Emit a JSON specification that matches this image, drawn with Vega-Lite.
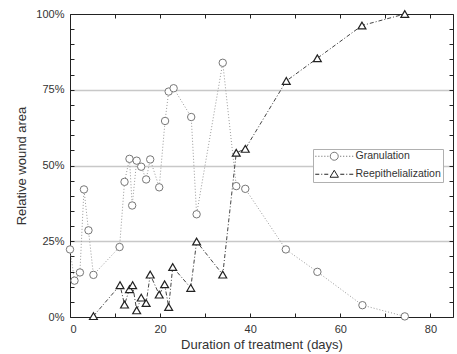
{
  "$schema": "https://vega.github.io/schema/vega-lite/v6.json",
  "width": 383,
  "height": 303,
  "autosize": {"type": "none"},
  "padding": {"left": 70, "top": 14, "right": 4, "bottom": 37},
  "background": "white",
  "config": {
    "font": "Liberation Sans",
    "view": {"stroke": null},
    "axis": {
      "domainColor": "#222",
      "tickColor": "#222",
      "labelColor": "#333",
      "titleColor": "#333",
      "labelFontSize": 11,
      "titleFontSize": 13,
      "titleFontWeight": "normal",
      "tickSize": -4,
      "gridColor": "#c8c8c8",
      "gridWidth": 1.5
    },
    "legend": {"strokeColor": "#b0b0b0", "fillColor": "white"}
  },
  "data": {
    "values": [
      {"series": "Granulation", "day": 0, "value": 22.3},
      {"series": "Granulation", "day": 1, "value": 12},
      {"series": "Granulation", "day": 2.2, "value": 14.7},
      {"series": "Granulation", "day": 3.1, "value": 42.1},
      {"series": "Granulation", "day": 4.1, "value": 28.6},
      {"series": "Granulation", "day": 5.2, "value": 13.9},
      {"series": "Granulation", "day": 11, "value": 23.1},
      {"series": "Granulation", "day": 12.1, "value": 44.6},
      {"series": "Granulation", "day": 13.2, "value": 52.2},
      {"series": "Granulation", "day": 13.8, "value": 36.8},
      {"series": "Granulation", "day": 14.8, "value": 51.6},
      {"series": "Granulation", "day": 15.8, "value": 49.6},
      {"series": "Granulation", "day": 16.9, "value": 45.4},
      {"series": "Granulation", "day": 17.8, "value": 52},
      {"series": "Granulation", "day": 19.8, "value": 42.8},
      {"series": "Granulation", "day": 21.1, "value": 64.7},
      {"series": "Granulation", "day": 21.9, "value": 74.4},
      {"series": "Granulation", "day": 23, "value": 75.5},
      {"series": "Granulation", "day": 26.9, "value": 66},
      {"series": "Granulation", "day": 28.1, "value": 33.9},
      {"series": "Granulation", "day": 33.9, "value": 83.9},
      {"series": "Granulation", "day": 36.9, "value": 43.2},
      {"series": "Granulation", "day": 38.9, "value": 42.3},
      {"series": "Granulation", "day": 47.9, "value": 22.3},
      {"series": "Granulation", "day": 54.9, "value": 14.9},
      {"series": "Granulation", "day": 64.9, "value": 3.9},
      {"series": "Granulation", "day": 74.3, "value": 0.2},
      {"series": "Reepithelialization", "day": 5.2, "value": 0.3},
      {"series": "Reepithelialization", "day": 11.1, "value": 10.5},
      {"series": "Reepithelialization", "day": 12.1, "value": 4.1},
      {"series": "Reepithelialization", "day": 13.2, "value": 9.2},
      {"series": "Reepithelialization", "day": 13.9, "value": 10.5},
      {"series": "Reepithelialization", "day": 14.8, "value": 2.2},
      {"series": "Reepithelialization", "day": 15.8, "value": 6.4},
      {"series": "Reepithelialization", "day": 16.9, "value": 4.6},
      {"series": "Reepithelialization", "day": 17.8, "value": 14},
      {"series": "Reepithelialization", "day": 19.8, "value": 7.4},
      {"series": "Reepithelialization", "day": 21, "value": 10.8},
      {"series": "Reepithelialization", "day": 21.9, "value": 3.3},
      {"series": "Reepithelialization", "day": 22.8, "value": 16.5},
      {"series": "Reepithelialization", "day": 26.8, "value": 9.6},
      {"series": "Reepithelialization", "day": 28.1, "value": 24.9},
      {"series": "Reepithelialization", "day": 33.9, "value": 14},
      {"series": "Reepithelialization", "day": 36.9, "value": 54.2},
      {"series": "Reepithelialization", "day": 38.9, "value": 55.5},
      {"series": "Reepithelialization", "day": 48, "value": 77.9},
      {"series": "Reepithelialization", "day": 54.9, "value": 85.4},
      {"series": "Reepithelialization", "day": 64.8, "value": 96.2},
      {"series": "Reepithelialization", "day": 74.3, "value": 100}
    ]
  },
  "layer": [
    {
      "mark": {"type": "line", "strokeWidth": 1},
      "encoding": {
        "x": {
          "field": "day", "type": "quantitative",
          "scale": {"domain": [0, 85], "nice": false, "zero": false},
          "axis": {
            "title": "Duration of treatment (days)",
            "values": [0, 10, 20, 30, 40, 50, 60, 70, 80],
            "labelExpr": "datum.value % 20 === 0 ? datum.label : ''",
            "grid": false,
            "labelPadding": 10.5,
            "titlePadding": 4
          }
        },
        "y": {
          "field": "value", "type": "quantitative",
          "scale": {"domain": [0, 100], "nice": false},
          "axis": {
            "title": "Relative wound area",
            "values": [0,5,10,15,20,25,30,35,40,45,50,55,60,65,70,75,80,85,90,95,100],
            "labelExpr": "datum.value % 25 === 0 ? datum.value + '%' : ''",
            "grid": true,
            "gridOpacity": {"condition": {"test": "datum.value % 25 === 0 && datum.value > 0 && datum.value < 100", "value": 1}, "value": 0},
            "labelPadding": 10,
            "titlePadding": 7
          }
        },
        "detail": {"field": "series"},
        "color": {"condition": {"test": "datum.series === 'Granulation'", "value": "#9a9a9a"}, "value": "#444"},
        "strokeDash": {"condition": {"test": "datum.series === 'Granulation'", "value": [1, 2]}, "value": [4, 2, 1, 2]}
      }
    },
    {
      "mark": {"type": "point", "filled": false, "fill": "white", "opacity": 1},
      "encoding": {
        "x": {
          "field": "day", "type": "quantitative",
          "axis": {"orient": "top", "labels": false, "title": null, "grid": false, "values": [0, 10, 20, 30, 40, 50, 60, 70, 80]}
        },
        "y": {
          "field": "value", "type": "quantitative",
          "axis": {"orient": "right", "labels": false, "title": null, "grid": false,
                   "values": [0,5,10,15,20,25,30,35,40,45,50,55,60,65,70,75,80,85,90,95,100]}
        },
        "shape": {"condition": {"test": "datum.series === 'Granulation'", "value": "circle"}, "value": "triangle-up"},
        "size": {"condition": {"test": "datum.series === 'Granulation'", "value": 55}, "value": 62},
        "stroke": {"condition": {"test": "datum.series === 'Granulation'", "value": "#777"}, "value": "#222"},
        "strokeWidth": {"condition": {"test": "datum.series === 'Granulation'", "value": 1}, "value": 1.2}
      }
    },
    {
      "mark": {"type": "point", "filled": false, "opacity": 0},
      "encoding": {
        "x": {"field": "day", "type": "quantitative", "axis": null},
        "y": {"field": "value", "type": "quantitative", "axis": null},
        "shape": {
          "field": "series", "type": "nominal",
          "scale": {"domain": ["Granulation", "Reepithelialization"], "range": [
            "M-4.75,0h0.3M-4,0h0.3M-3.25,0h0.3M-2.5,0h0.3M-1.75,0h0.3M1.45,0h0.3M2.2,0h0.3M2.95,0h0.3M3.7,0h0.3M4.45,0h0.3M-1,0A1,1,0,1,1,1,0A1,1,0,1,1,-1,0Z",
            "M-4.75,0H-3.75M-3.25,0H-3M-2.5,0H-1.5M1.5,0H2.5M3,0H3.25M3.75,0H4.75M0,-1L1.05,0.75L-1.05,0.75Z"
          ]},
          "legend": {
            "title": null,
            "orient": "none",
            "legendX": 243,
            "legendY": 135,
            "padding": 2,
            "rowPadding": 5,
            "symbolSize": 64,
            "symbolOffset": 14,
            "labelOffset": 16,
            "labelFontSize": 10.5,
            "labelColor": "#333",
            "strokeColor": "#b0b0b0",
            "fillColor": "white",
            "symbolStrokeWidth": 1,
            "symbolOpacity": 1,
            "symbolFillColor": "white"
          }
        },
        "stroke": {
          "field": "series", "type": "nominal",
          "scale": {"domain": ["Granulation", "Reepithelialization"], "range": ["#777", "#222"]},
          "legend": {
            "title": null,
            "orient": "none",
            "legendX": 243,
            "legendY": 135,
            "padding": 2,
            "rowPadding": 5,
            "symbolSize": 64,
            "symbolOffset": 14,
            "labelOffset": 16,
            "labelFontSize": 10.5,
            "labelColor": "#333",
            "strokeColor": "#b0b0b0",
            "fillColor": "white",
            "symbolStrokeWidth": 1,
            "symbolOpacity": 1,
            "symbolFillColor": "white"
          }
        }
      }
    }
  ],
  "resolve": {"axis": {"x": "independent", "y": "independent"}}
}
